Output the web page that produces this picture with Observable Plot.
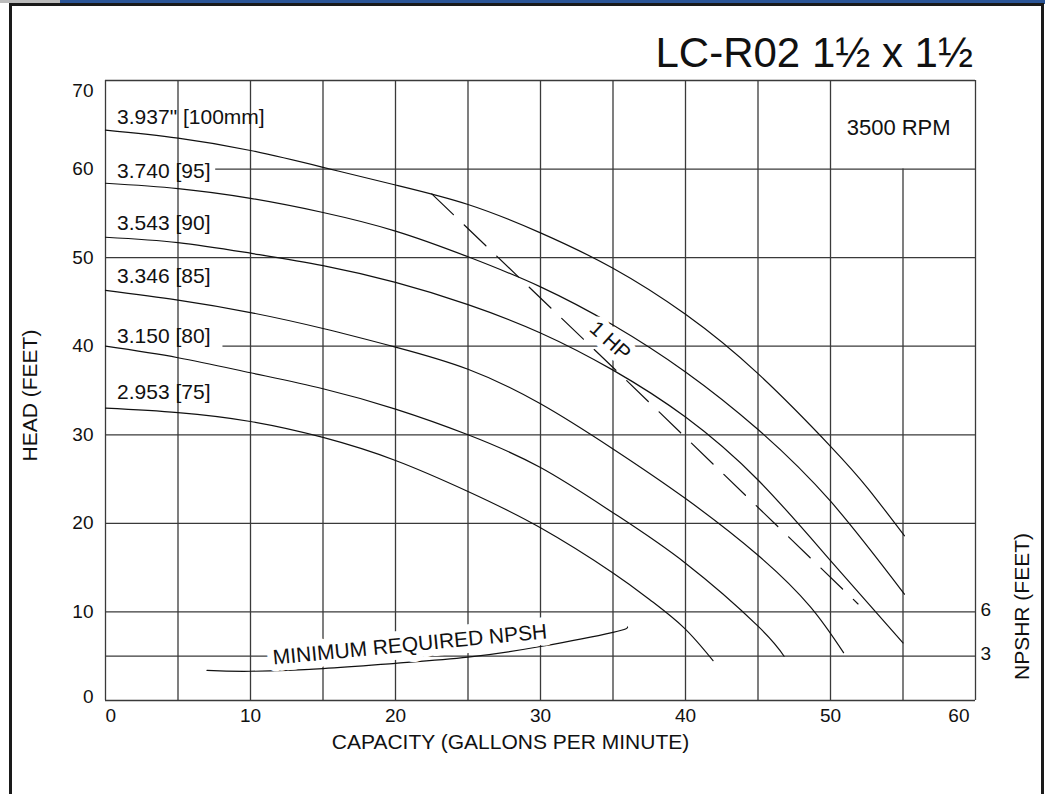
<!DOCTYPE html>
<html>
<head>
<meta charset="utf-8">
<script src="https://cdn.jsdelivr.net/npm/d3@7"></script>
<script src="https://cdn.jsdelivr.net/npm/@observablehq/plot@0.6"></script>
<style>
  html, body { margin: 0; padding: 0; background: #fff; }
  #wrap { position: relative; width: 1045px; height: 794px; overflow: hidden; font-family: "Liberation Sans", Arial, sans-serif; }
  #wrap svg { position: absolute; left: 0; top: 0; }
  .frame { position: absolute; background: #1a1a1a; }
  #title { position: absolute; right: 72px; top: 32px; font-size: 42px; line-height: 42px; color: #111; white-space: nowrap; }
</style>
</head>
<body>
<div id="wrap">
  <div class="frame" style="left:0;top:0;width:60px;height:3px;background:#bbb"></div>
  <div class="frame" style="left:60px;top:0;width:985px;height:4px;background:#2b5597"></div>
  <div class="frame" style="left:9px;top:3px;width:1035px;height:3px"></div>
  <div class="frame" style="left:9px;top:3px;width:3px;height:791px"></div>
  <div class="frame" style="left:1041px;top:3px;width:3px;height:791px"></div>
  <div id="title">LC-R02 1½ x 1½</div>
</div>
<script>
// ---- data ----
const curveLabels = ['3.937" [100mm]', '3.740 [95]', '3.543 [90]', '3.346 [85]', '3.150 [80]', '2.953 [75]'];
const labelHeads = [65.8, 59.8, 53.9, 47.9, 41.1, 34.8];

const gpm100 = [0, 5, 10, 15, 20, 25, 30, 35, 40, 45, 50, 52.6, 55.1];
const head100 = [64.4, 63.5, 62.1, 60.2, 58.2, 56.0, 52.8, 48.8, 43.6, 36.9, 28.7, 23.9, 18.6];
const gpm95 = [0, 5, 10, 15, 20, 25, 30, 35, 40, 45, 50, 55.1];
const head95 = [58.4, 57.8, 56.7, 55.1, 53.0, 50.1, 46.7, 42.4, 37.1, 30.6, 22.5, 12.0];
const gpm90 = [0, 5, 10, 15, 20, 25, 30, 35, 40, 45, 50, 55.0];
const head90 = [52.3, 51.7, 50.5, 49.1, 47.2, 44.7, 41.5, 37.3, 32.0, 24.9, 15.8, 6.5];
const gpm85 = [0, 5, 10, 15, 20, 25, 30, 35, 40, 45, 48.6, 50.9];
const head85 = [46.3, 45.2, 43.8, 42.0, 39.9, 37.4, 33.5, 28.4, 22.8, 16.4, 10.6, 5.4];
const gpm80 = [0, 5, 10, 15, 20, 25, 30, 35, 40, 45, 46.8];
const head80 = [40.0, 38.7, 37.0, 35.2, 32.9, 30.0, 26.3, 21.2, 15.5, 8.4, 5.0];
const gpm75 = [0, 5, 10, 15, 20, 25, 30, 35, 37.6, 39.9, 41.9];
const head75 = [33.0, 32.5, 31.5, 29.7, 27.1, 23.6, 19.5, 14.4, 11.3, 8.2, 4.5];

const npshGpm = [7, 10, 15, 20, 25, 30, 35, 36];
const npshHead = [3.4, 3.3, 3.6, 4.2, 4.9, 6.1, 7.7, 8.3];

const hpGpm = [22.5, 35.7, 51.9];
const hpHead = [57.2, 36.5, 10.9];

const xTicks = [0, 10, 20, 30, 40, 50, 60];
const yTicks = [0, 10, 20, 30, 40, 50, 60, 70];
const npshrTicks = [3, 6];
const npshrPerHead = 0.6; // NPSHR feet per head foot on the right scale

const gridX = [0, 5, 10, 15, 20, 25, 30, 35, 40, 45, 50, 55, 60];
const gridY = [0, 5, 10, 20, 30, 40, 50, 60, 70];

// ---- build tables ----
const series = [
  [gpm100, head100], [gpm95, head95], [gpm90, head90],
  [gpm85, head85], [gpm80, head80], [gpm75, head75]
];
const curveRows = series.flatMap(([g, h], i) => g.map((v, j) => ({gpm: v, head: h[j], name: curveLabels[i]})));
const labelRows = curveLabels.map((t, i) => ({text: t, head: labelHeads[i]}));
const npshRows = npshGpm.map((v, j) => ({gpm: v, head: npshHead[j]}));
const hpRows = hpGpm.map((v, j) => ({gpm: v, head: hpHead[j]}));

// grid lines partly hidden behind labels / the RPM box
const vRows = gridX.map(x => ({x, y2: x === 55 ? 60 : 70}));
const hRows = gridY.map(y => ({y, x1: y === 60 ? 7.6 : y === 40 ? 8.1 : 0}));

const yFirst = yTicks.slice(0, 1);
const yLast = yTicks.slice(-1);
const yMid = yTicks.slice(1, -1);
const xFirst = xTicks.slice(0, 1);
const xLast = xTicks.slice(-1);
const xMid = xTicks.slice(1, -1);

const ink = "#111";
const gridInk = "#3a3a3a";
const tickFont = 19;

const chart = Plot.plot({
  width: 1045,
  height: 794,
  marginLeft: 105,
  marginRight: 70,
  marginTop: 80,
  marginBottom: 94,
  x: {domain: [0, 60], axis: null},
  y: {domain: [0, 70], axis: null},
  style: {fontFamily: "'Liberation Sans', Arial, sans-serif", fontSize: "21px", background: "transparent", color: ink},
  marks: [
    Plot.ruleX(vRows, {x: "x", y1: 0, y2: "y2", stroke: gridInk, strokeWidth: 1.3}),
    Plot.ruleY(hRows, {y: "y", x1: "x1", x2: 60, stroke: gridInk, strokeWidth: 1.3}),
    Plot.line(curveRows, {x: "gpm", y: "head", z: "name", curve: "natural", stroke: ink, strokeWidth: 1.2}),
    Plot.line(hpRows, {x: "gpm", y: "head", stroke: ink, strokeWidth: 1.2, strokeDasharray: "30,15"}),
    Plot.line(npshRows, {x: "gpm", y: "head", curve: "natural", stroke: ink, strokeWidth: 1.2}),
    Plot.text(labelRows, {x: 0.8, y: "head", text: "text", textAnchor: "start", fill: ink, fontSize: 21}),
    Plot.text(["1 HP"], {x: 34.8, y: 40.6, text: d => d, rotate: 42, fill: ink, stroke: "white", strokeWidth: 12, fontSize: 21}),
    Plot.text(["MINIMUM REQUIRED NPSH"], {x: 21.0, y: 6.3, text: d => d, rotate: -5.5, fill: ink, stroke: "white", strokeWidth: 14, fontSize: 21}),
    Plot.text(["3500 RPM"], {x: 54.7, y: 64.6, text: d => d, fill: ink, fontSize: 22}),
    // left tick labels
    Plot.text(yMid, {x: 0, y: d => d, text: d => String(d), textAnchor: "end", dx: -12, fill: ink, fontSize: tickFont}),
    Plot.text(yLast, {x: 0, y: d => d, text: d => String(d), textAnchor: "end", dx: -12, dy: 10, fill: ink, fontSize: tickFont}),
    Plot.text(yFirst, {x: 0, y: d => d, text: d => String(d), textAnchor: "end", dx: -12, dy: -4, fill: ink, fontSize: tickFont}),
    // bottom tick labels
    Plot.text(xMid, {x: d => d, y: 0, text: d => String(d), dy: 15, textAnchor: "middle", fill: ink, fontSize: tickFont}),
    Plot.text(xFirst, {x: d => d, y: 0, text: d => String(d), dy: 15, textAnchor: "start", fill: ink, fontSize: tickFont}),
    Plot.text(xLast, {x: d => d, y: 0, text: d => String(d), dy: 15, textAnchor: "end", dx: -6, fill: ink, fontSize: tickFont}),
    // right NPSHR tick labels
    Plot.text(npshrTicks, {x: 60, y: d => d / npshrPerHead, text: d => String(d), textAnchor: "start", dx: 5, dy: -2, fill: ink, fontSize: tickFont}),
    // axis titles
    Plot.text(["HEAD (FEET)"], {frameAnchor: "left", textAnchor: "middle", text: d => d, rotate: -90, dx: -75, dy: 5, fill: ink, fontSize: 21}),
    Plot.text(["CAPACITY (GALLONS PER MINUTE)"], {frameAnchor: "bottom", textAnchor: "middle", text: d => d, dx: -30, dy: 48, fill: ink, fontSize: 21}),
    Plot.text(["NPSHR (FEET)"], {frameAnchor: "right", textAnchor: "middle", text: d => d, rotate: -90, dx: 47, dy: 216, fill: ink, fontSize: 21})
  ]
});
document.getElementById("wrap").prepend(chart);
</script>
</body>
</html>
